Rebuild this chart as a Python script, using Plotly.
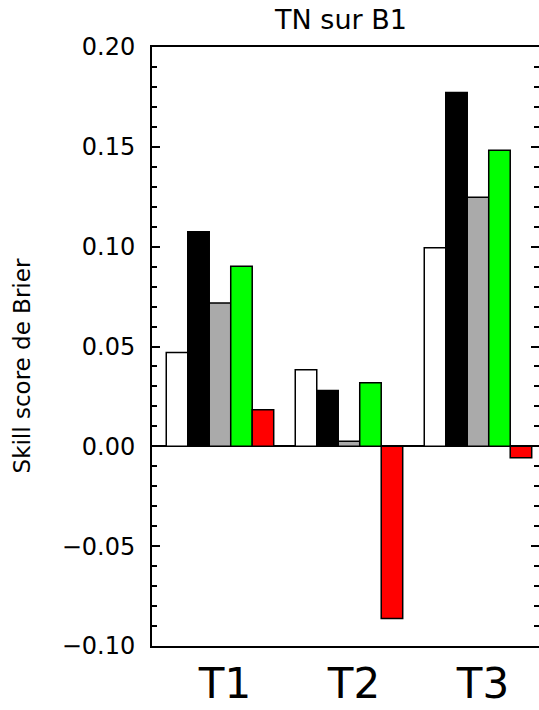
import plotly.graph_objects as go

# Brier skill score per term and per configuration
categories = ["T1", "T2", "T3"]
serie_blanc = [0.047, 0.0383, 0.0995]
serie_noir = [0.1075, 0.028, 0.1772]
serie_gris = [0.0718, 0.0025, 0.1247]
serie_vert = [0.0902, 0.0318, 0.1483]
serie_rouge = [0.0183, -0.0862, -0.0057]

series = [
    ("blanc", serie_blanc, "#ffffff"),
    ("noir", serie_noir, "#000000"),
    ("gris", serie_gris, "#aaaaaa"),
    ("vert", serie_vert, "#00ff00"),
    ("rouge", serie_rouge, "#ff0000"),
]

y_ticks = [-0.10, -0.05, 0.00, 0.05, 0.10, 0.15, 0.20]

fig = go.Figure()
for name, vals, color in series:
    fig.add_trace(go.Bar(
        x=categories, y=vals, name=name,
        marker=dict(color=color, line=dict(color="#000000", width=1.5)),
        showlegend=False,
    ))

font_family = "DejaVu Sans"

fig.update_layout(
    width=539, height=710,
    margin=dict(l=152, r=0, t=47, b=64, autoexpand=False),
    paper_bgcolor="white", plot_bgcolor="white",
    barmode="group", bargap=0.167, bargroupgap=0,
    title=dict(text="TN sur B1", x=341 / 539, xanchor="center",
               y=1 - 20 / 710, yanchor="middle", yref="container",
               font=dict(family=font_family, size=27, color="#000000")),
    font=dict(family=font_family, color="#000000"),
)

fig.update_xaxes(
    type="category", range=[-0.527, 2.473], automargin=False,
    showline=True, linecolor="#000000", linewidth=2, mirror=True,
    ticks="", showgrid=False, zeroline=False,
    tickfont=dict(family=font_family, size=42, color="#000000"),
    ticklabelshift=5, ticklabelstandoff=0,
)

fig.update_yaxes(
    range=[-0.10, 0.20], tickvals=y_ticks, tickformat=".2f", automargin=False,
    showline=True, linecolor="#000000", linewidth=2, mirror="allticks",
    ticks="inside", ticklen=8, tickwidth=1.5, tickcolor="#000000",
    minor=dict(ticks="inside", ticklen=5, tickwidth=1.5, tickcolor="#000000", dtick=0.01),
    showgrid=False,
    zeroline=True, zerolinecolor="#000000", zerolinewidth=1.5,
    tickfont=dict(family=font_family, size=24, color="#000000"),
    ticklabelstandoff=10,
)

fig.add_annotation(
    text="Skill score de Brier", textangle=-90,
    xref="paper", yref="paper",
    x=(22 - 152) / 387, y=(646 - 366) / 600,
    xanchor="center", yanchor="middle", showarrow=False,
    font=dict(family=font_family, size=23, color="#000000"),
)

fig.write_html("out.html")
